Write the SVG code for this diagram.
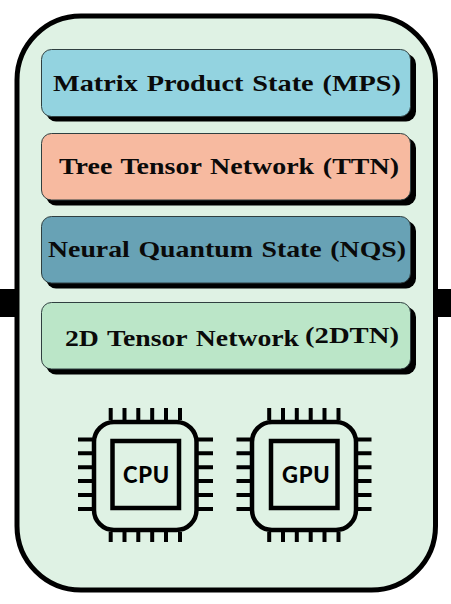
<svg xmlns="http://www.w3.org/2000/svg" width="451" height="604" viewBox="0 0 451 604">
<defs>
<style>
.bar{fill:#000}
.outer{fill:#dff2e4;stroke:#000;stroke-width:5}
.shadow{fill:#000}
.box{stroke:#2f3f40;stroke-width:1}
.label{font-family:"Liberation Serif","Times New Roman",serif;font-weight:bold;font-size:24px;word-spacing:1.500px;fill:#0a0a0a}
.chip{fill:none;stroke:#000;stroke-width:4.500}
.pin{stroke:#000;stroke-width:4;fill:none}
.chipt{font-family:Lato,"Open Sans",sans-serif;font-weight:900;font-size:22px;letter-spacing:0.700px;fill:#000}
</style>
<path id="pins" class="pin" d="M110.700 408V420M124.500 408V420M138.300 408V420M152.200 408V420M166 408V420M180 408V420M110.700 532V542M124.500 532V542M138.300 532V542M152.200 532V542M166 532V542M180 532V542M78 439.500H92M78 453.300H92M78 467.200H92M78 481H92M78 495H92M78 509H92M198 439.500H213M198 453.300H213M198 467.200H213M198 481H213M198 495H213M198 509H213"/>
</defs>
<g id="connectors">
<rect class="bar" x="0" y="289" width="16" height="28"/>
<rect class="bar" x="436" y="289" width="15" height="28"/>
</g>
<g id="container">
<rect class="outer" x="17" y="16" width="418.500" height="574" rx="64" ry="64"/>
</g>
<g id="mps">
<rect class="shadow" x="46" y="54" width="370" height="67.500" rx="10"/>
<rect class="box" fill="#93d3e0" x="41.500" y="49.500" width="369" height="67" rx="10"/>
<text class="label" x="53" y="91" textLength="348" lengthAdjust="spacingAndGlyphs">Matrix Product State (MPS)</text>
</g>
<g id="ttn">
<rect class="shadow" x="46" y="138" width="370" height="67.500" rx="10"/>
<rect class="box" fill="#f7baa0" x="41.500" y="133.500" width="369" height="66.500" rx="10"/>
<text class="label" x="59" y="174" textLength="340" lengthAdjust="spacingAndGlyphs">Tree Tensor Network (TTN)</text>
</g>
<g id="nqs">
<rect class="shadow" x="46" y="221" width="370" height="67.500" rx="10"/>
<rect class="box" fill="#68a2b5" x="41.500" y="216.500" width="369" height="66.500" rx="10"/>
<text class="label" x="48" y="257" textLength="358" lengthAdjust="spacingAndGlyphs">Neural Quantum State (NQS)</text>
</g>
<g id="tn2d">
<rect class="shadow" x="46" y="307" width="370" height="67.500" rx="10"/>
<rect class="box" fill="#bbe6c8" x="41.500" y="302.500" width="369" height="66.500" rx="10"/>
<text class="label" x="65" y="346" textLength="234" lengthAdjust="spacingAndGlyphs">2D Tensor Network</text>
<text class="label" x="305" y="343" textLength="94" lengthAdjust="spacingAndGlyphs">(2DTN)</text>
</g>
<g id="cpu">
<rect class="chip" x="94" y="422" width="102.500" height="108" rx="20"/>
<rect class="chip" x="112.500" y="441" width="66.500" height="67"/>
<use href="#pins"/>
<text class="chipt" x="123" y="483">CPU</text>
</g>
<g id="gpu">
<rect class="chip" x="252" y="422" width="104" height="108" rx="20"/>
<rect class="chip" x="271" y="441" width="66.500" height="67"/>
<use href="#pins" x="158.500"/>
<text class="chipt" x="282" y="483">GPU</text>
</g>
</svg>
